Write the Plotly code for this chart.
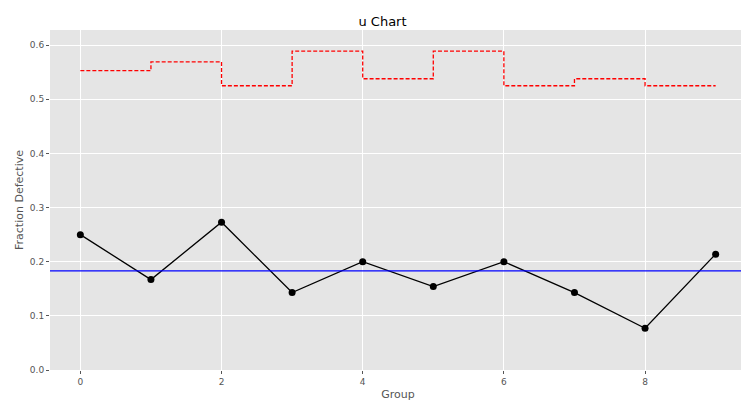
import plotly.graph_objects as go

groups = list(range(10))
fraction = [0.25, 0.167, 0.273, 0.143, 0.2, 0.154, 0.2, 0.143, 0.077, 0.214]
ucl = [0.553, 0.569, 0.525, 0.589, 0.538, 0.589, 0.525, 0.538, 0.525, 0.525]
center = 0.183

fig = go.Figure()
fig.add_trace(go.Scatter(x=groups, y=ucl, mode='lines', line=dict(color='red', dash='4px,2px', width=1.3, shape='hv')))
fig.add_hline(y=center, line=dict(color='blue', width=1.3))
fig.add_trace(go.Scatter(x=groups, y=fraction, mode='lines+markers',
                         line=dict(color='black', width=1.3), marker=dict(color='black', size=7)))

fig.update_layout(
    width=749, height=407, showlegend=False,
    title=dict(text='u Chart', x=0.5, xanchor='center', y=0.968, yanchor='middle', font=dict(size=13, color='black'),
               automargin=False),
    plot_bgcolor='#E5E5E5', paper_bgcolor='white',
    margin=dict(l=42, r=11, t=22, b=45, autoexpand=False),
    font=dict(family='DejaVu Sans', color='#555555', size=9),
)
fig.update_xaxes(range=[-0.43, 9.43], tickvals=[0, 2, 4, 6, 8], gridcolor='white', automargin=False,
                 zeroline=False, title=dict(text='Group', font=dict(size=11), standoff=4), ticks='outside',
                 tickcolor='#555555', ticklen=3)
fig.update_yaxes(range=[0, 0.628], dtick=0.1, tickformat='.1f', gridcolor='white', automargin=False,
                 zeroline=False, title=dict(text='Fraction Defective', font=dict(size=11), standoff=4),
                 ticks='outside', tickcolor='#555555', ticklen=3)

fig.write_html("out.html")
